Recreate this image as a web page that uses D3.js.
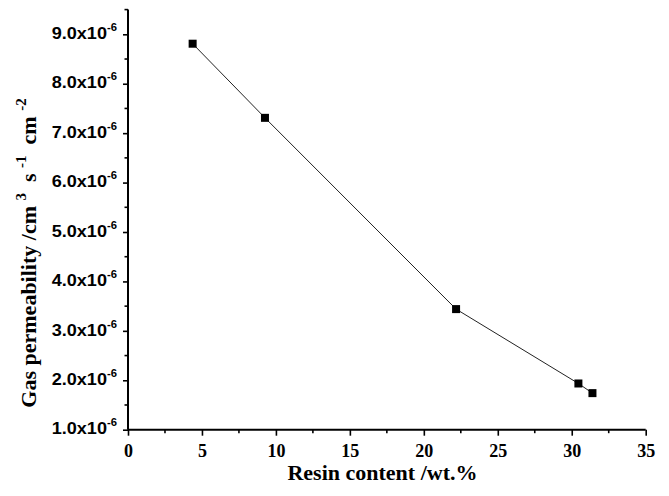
<!DOCTYPE html>
<html><head><meta charset="utf-8">
<script src="https://cdn.jsdelivr.net/npm/d3@7"></script>
<style>body{margin:0;background:#fff}svg{display:block}</style>
</head><body><svg id="c" width="669" height="496"></svg>
<script>
const resin = [4.37, 9.26, 22.18, 30.45, 31.4];
const permeability = [8.81, 7.31, 3.44, 1.935, 1.74]; // x1e-6
const xTicks = [0, 5, 10, 15, 20, 25, 30, 35];
const yTicks = [1, 2, 3, 4, 5, 6, 7, 8, 9];
const xMinor = [2.5, 7.5, 12.5, 17.5, 22.5, 27.5, 32.5];
const yMinor = [1.5, 2.5, 3.5, 4.5, 5.5, 6.5, 7.5, 8.5, 9.5];

const svg = d3.select("#c");
const x = d3.scaleLinear().domain([0, 35]).range([128, 645.7]);
const y = d3.scaleLinear().domain([1, 9.5]).range([429.7, 9.6]);

// series line
svg.append("path")
  .datum(resin.map((r, i) => [r, permeability[i]]))
  .attr("fill", "none").attr("stroke", "#222").attr("stroke-width", 1)
  .attr("d", d3.line().x(d => x(d[0])).y(d => y(d[1])));

svg.selectAll("rect.pt").data(resin).enter().append("rect")
  .attr("class", "pt")
  .attr("x", (d) => x(d) - 4).attr("y", (d, i) => y(permeability[i]) - 4)
  .attr("width", 8).attr("height", 8).attr("fill", "#000");

// X axis
const gx = svg.append("g").attr("transform", `translate(0,${y(1)})`);
gx.call(d3.axisBottom(x).tickValues(xTicks).tickSize(6).tickFormat(d3.format("d")));
gx.selectAll(".tick text").attr("font-family", "'Liberation Serif', 'Times New Roman', serif")
  .attr("font-weight", "bold").attr("font-size", 18).attr("fill", "#000").attr("y", 27).attr("dy", "0");
gx.selectAll(".tick line").attr("stroke", "#000").attr("stroke-width", 1.6);
gx.select(".domain").attr("stroke", "#000").attr("stroke-width", 2).attr("d", `M${x(0)},0H${x(35)}`);
gx.selectAll("line.minor").data(xMinor).enter().append("line").attr("class", "minor")
  .attr("x1", d => x(d)).attr("x2", d => x(d)).attr("y1", 0).attr("y2", 3.5)
  .attr("stroke", "#000").attr("stroke-width", 1.6);

// Y axis
const gy = svg.append("g").attr("transform", `translate(${x(0)},0)`);
gy.call(d3.axisLeft(y).tickValues(yTicks).tickSize(5).tickFormat(() => ""));
gy.selectAll(".tick line").attr("stroke", "#000").attr("stroke-width", 1.6);
gy.select(".domain").attr("stroke", "#000").attr("stroke-width", 2).attr("d", `M0,${y(9.5)}V${y(1)}`);
gy.selectAll("line.minor").data(yMinor).enter().append("line").attr("class", "minor")
  .attr("y1", d => y(d)).attr("y2", d => y(d)).attr("x1", 0).attr("x2", -3.5)
  .attr("stroke", "#000").attr("stroke-width", 1.6);

// Y tick labels with superscript
const yl = gy.selectAll(".tick").append("g").attr("transform", "translate(-11,4.2) scale(1.13,1)");
const yt = yl.append("text").attr("text-anchor", "end")
  .attr("font-family", "'Liberation Sans', Arial, sans-serif").attr("font-weight", "bold")
  .attr("font-size", 16).attr("fill", "#000");
yt.append("tspan").text(d => d.toFixed(1) + "x10");
yt.append("tspan").attr("font-size", 10).attr("dy", -8).text("-6");

// Axis titles
svg.append("text").attr("x", 382.5).attr("y", 480).attr("text-anchor", "middle")
  .attr("font-family", "'Liberation Serif', 'Times New Roman', serif").attr("font-weight", "bold")
  .attr("font-size", 22).attr("fill", "#000").text("Resin content /wt.%");

const yTitle = svg.append("text").attr("transform", "translate(36,253) rotate(-90)")
  .attr("text-anchor", "middle")
  .attr("font-family", "'Liberation Serif', 'Times New Roman', serif").attr("font-weight", "bold")
  .attr("font-size", 22).attr("fill", "#000").attr("xml:space", "preserve");
const parts = [["Gas permeability /cm ", 0], ["3", 1], ["  s ", 0], ["-1", 1], ["  cm ", 0], ["-2", 1]];
let prevSup = 0;
parts.forEach(([t, sup]) => {
  const ts = yTitle.append("tspan").text(t);
  if (sup) { ts.attr("font-size", 15).attr("dy", prevSup ? 0 : -10); }
  else { ts.attr("dy", prevSup ? 10 : 0); }
  prevSup = sup;
});
</script></body></html>
